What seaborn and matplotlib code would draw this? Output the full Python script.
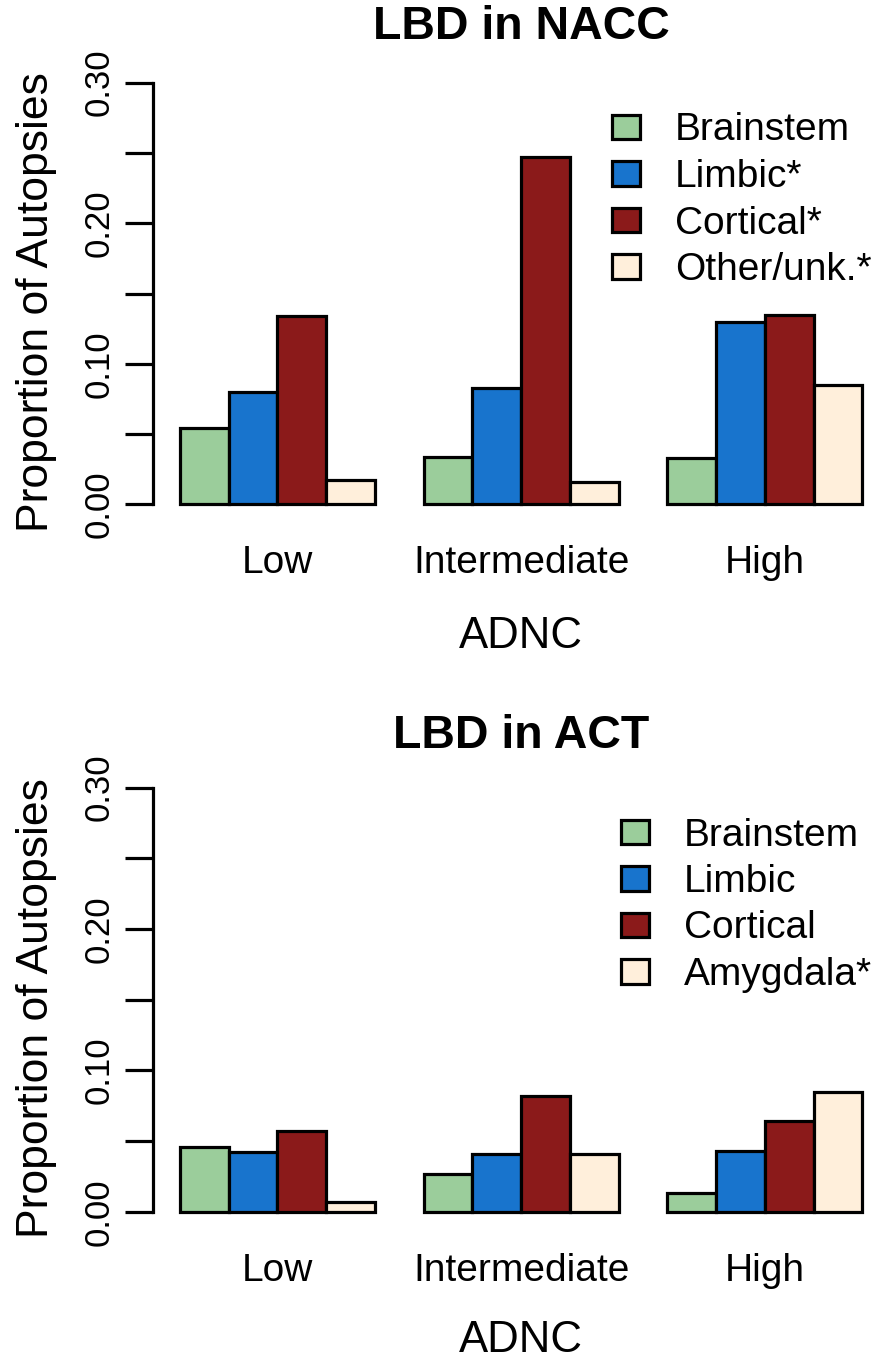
import numpy as np
import pandas as pd
import matplotlib
matplotlib.use("Agg")
import matplotlib.pyplot as plt
from matplotlib.patches import Patch
import seaborn as sns

# ---------------- data ----------------
adnc = ["Low", "Intermediate", "High"]

nacc_types = ["Brainstem", "Limbic*", "Cortical*", "Other/unk.*"]
nacc_brainstem = [0.054, 0.034, 0.033]
nacc_limbic = [0.080, 0.083, 0.130]
nacc_cortical = [0.134, 0.247, 0.135]
nacc_other = [0.017, 0.016, 0.085]

act_types = ["Brainstem", "Limbic", "Cortical", "Amygdala*"]
act_brainstem = [0.046, 0.027, 0.013]
act_limbic = [0.042, 0.041, 0.043]
act_cortical = [0.057, 0.082, 0.064]
act_amygdala = [0.007, 0.041, 0.085]

colors = ["#9BCD9B", "#1874CD", "#8B1A1A", "#FFEFDB"]
yticks = [0.00, 0.05, 0.10, 0.15, 0.20, 0.25, 0.30]
ytick_labels = ["0.00", "", "0.10", "", "0.20", "", "0.30"]

# ---------------- style ----------------
sns.set_style("white")
plt.rcParams["font.family"] = ["Liberation Sans", "DejaVu Sans"]
plt.rcParams["text.color"] = "black"
plt.rcParams["axes.labelcolor"] = "black"
plt.rcParams["xtick.color"] = "black"
plt.rcParams["ytick.color"] = "black"
plt.rcParams["axes.edgecolor"] = "black"

W, H = 875, 1359
fig = plt.figure(figsize=(W / 100, H / 100), dpi=100)
fig.patch.set_facecolor("white")

LW = 2.3


def make_df(types, series):
    rows = []
    for t, vals in zip(types, series):
        for g, v in zip(adnc, vals):
            rows.append({"ADNC": g, "type": t, "prop": v})
    return pd.DataFrame(rows)


def panel(rect_px, title, types, series, opts):
    left, top, right, bottom = rect_px
    ax = fig.add_axes([left / W, 1 - bottom / H, (right - left) / W, (bottom - top) / H])
    hpx = bottom - top
    df = make_df(types, series)
    sns.barplot(data=df, x="ADNC", y="prop", hue="type", order=adnc,
                hue_order=types, palette=colors, saturation=1,
                edgecolor="black", linewidth=LW, width=0.8,
                errorbar=None, legend=False, ax=ax)
    ax.set_xlim(-0.512, 2.512)
    ax.set_ylim(-0.012, 0.312)
    for s in ["top", "right", "bottom"]:
        ax.spines[s].set_visible(False)
    ax.spines["left"].set_bounds(0, 0.30)
    ax.spines["left"].set_linewidth(LW)
    ax.spines["left"].set_color("black")
    ax.set_yticks(yticks)
    ax.set_yticklabels(ytick_labels, rotation=90, va="center", ha="right",
                       fontsize=25, color="black")
    ax.tick_params(axis="y", direction="out", length=20, width=LW,
                   pad=7, colors="black", left=True)
    ax.tick_params(axis="x", length=0, pad=37.5, labelsize=28, labelcolor="black")
    for lab in ax.get_xticklabels():
        lab.set_va("baseline")

    ax.set_xlabel("ADNC", fontsize=31.5, color="black")
    ax.xaxis.set_label_coords(0.5, (bottom - opts["xlab_base"]) / hpx)
    ax.xaxis.label.set_va("baseline")
    ax.set_ylabel("Proportion of Autopsies", fontsize=32, color="black")
    ax.yaxis.set_label_coords((48 - left) / (right - left), 0.482)
    ax.yaxis.label.set_va("baseline")

    ax.set_title(title, fontsize=33.5, fontweight="bold", color="black",
                 y=(bottom - opts["title_base"]) / hpx, pad=0)

    handles = [Patch(facecolor=c, edgecolor="black", linewidth=LW) for c in colors]
    fs = 28
    leg = ax.legend(handles, types, loc="upper left", frameon=False,
                    bbox_to_anchor=(opts["x"] / W, 1 - opts["y"] / H),
                    bbox_transform=fig.transFigure, fontsize=fs,
                    handlelength=0.72, handleheight=0.59, handletextpad=0.9,
                    labelspacing=0.27, borderpad=0, borderaxespad=0)
    for t in leg.get_texts():
        t.set_color("black")
    return ax


panel((152.7, 65.8, 889.6, 521.2), "LBD in NACC", nacc_types,
      [nacc_brainstem, nacc_limbic, nacc_cortical, nacc_other],
      {"x": 611.7, "y": 112.5, "xlab_base": 648, "title_base": 39.3})
panel((152.7, 770.7, 889.6, 1228.7), "LBD in ACT", act_types,
      [act_brainstem, act_limbic, act_cortical, act_amygdala],
      {"x": 620.7, "y": 817.5, "xlab_base": 1352, "title_base": 748})

fig.savefig("out.png", dpi=100, facecolor="white")
